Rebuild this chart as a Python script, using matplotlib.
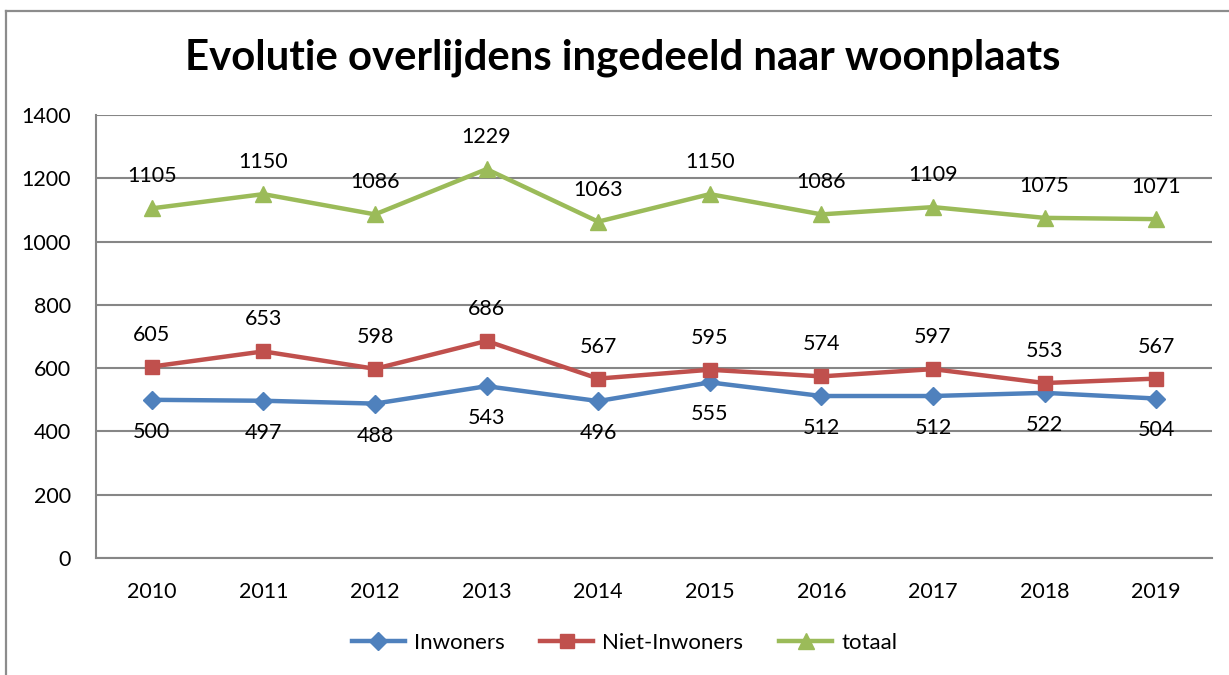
import matplotlib.pyplot as plt
from matplotlib.lines import Line2D

plt.rcParams['font.family'] = ['Lato', 'DejaVu Sans']

jaren = ['2010', '2011', '2012', '2013', '2014', '2015', '2016', '2017', '2018', '2019']
inwoners = [500, 497, 488, 543, 496, 555, 512, 512, 522, 504]
niet_inwoners = [605, 653, 598, 686, 567, 595, 574, 597, 553, 567]
totaal = [1105, 1150, 1086, 1229, 1063, 1150, 1086, 1109, 1075, 1071]

blauw = '#4F81BD'
rood = '#C0504D'
groen = '#9BBB59'
grijs = '#868686'

fig = plt.figure(figsize=(12.29, 6.75), dpi=100)
ax = fig.add_axes([0.0781, 0.1733, 0.9081, 0.6563])

x = list(range(len(jaren)))
ax.plot(x, inwoners, color=blauw, lw=3.2, marker='D', ms=9, label='Inwoners')
ax.plot(x, niet_inwoners, color=rood, lw=3.2, marker='s', ms=10, label='Niet-Inwoners')
ax.plot(x, totaal, color=groen, lw=3.2, marker='^', ms=11, label='totaal')

# labels boven/onder de punten
for i in x:
    ax.annotate(str(totaal[i]), (i, totaal[i]), xytext=(0, 23), textcoords='offset points',
                ha='center', va='center', fontsize=15.5)
    ax.annotate(str(niet_inwoners[i]), (i, niet_inwoners[i]), xytext=(0, 23), textcoords='offset points',
                ha='center', va='center', fontsize=15.5)
    ax.annotate(str(inwoners[i]), (i, inwoners[i]), xytext=(0, -23), textcoords='offset points',
                ha='center', va='center', fontsize=15.5)

ax.set_xlim(-0.5, len(jaren) - 0.5)
ax.set_ylim(0, 1400)
ax.set_yticks(range(0, 1401, 200))
ax.set_xticks(x)
ax.set_xticklabels(jaren)
ax.tick_params(length=0, labelsize=15.5)
ax.tick_params(axis='y', pad=18)
ax.tick_params(axis='x', pad=17)
ax.yaxis.grid(True, color=grijs, lw=1.5)
ax.set_axisbelow(True)
for s in ['top', 'right']:
    ax.spines[s].set_visible(False)
for s in ['left', 'bottom']:
    ax.spines[s].set_color(grijs)
    ax.spines[s].set_linewidth(1.5)

fig.text(0.507, 0.914, 'Evolutie overlijdens ingedeeld naar woonplaats',
         ha='center', va='center', fontsize=30.2, fontweight='bold')

fig.legend(loc='center', bbox_to_anchor=(0.508, 0.047), ncol=3, frameon=False,
           fontsize=16, handlelength=2.4, columnspacing=1.6, handletextpad=0.4)

# kaderrand van de grafiek
fig.add_artist(Line2D([0.0049, 0.0049], [0.9837, -0.1], color='#8c8c8c', lw=1.6))
fig.add_artist(Line2D([0.0049, 1.1], [0.9837, 0.9837], color='#8c8c8c', lw=1.6))

fig.savefig('out.png', dpi=100)
